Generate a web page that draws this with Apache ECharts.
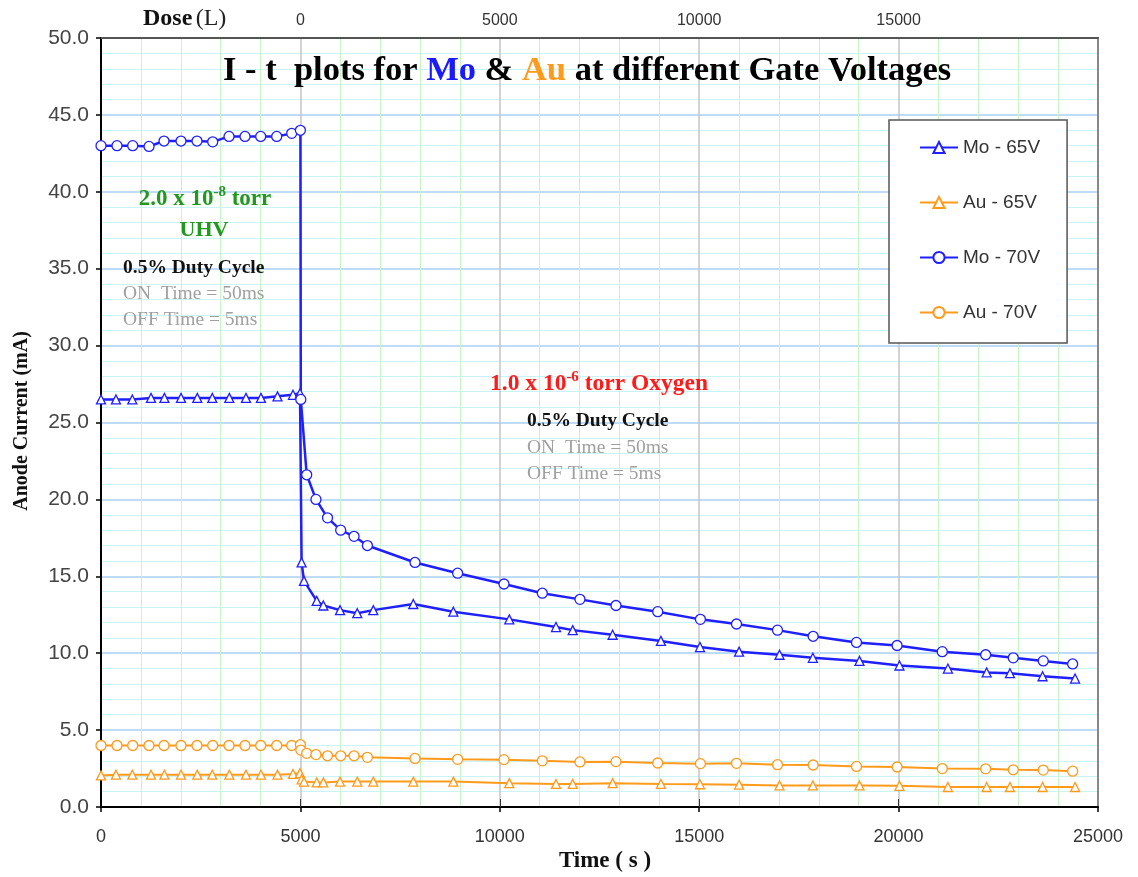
<!DOCTYPE html>
<html>
<head>
<meta charset="utf-8">
<script src="https://cdn.jsdelivr.net/npm/echarts@6/dist/echarts.min.js"></script>
<style>
html,body{margin:0;padding:0;background:#fff;}
#chart{width:1138px;height:877px;}
</style>
</head>
<body>
<div id="chart"></div>
<script>
// ---- data ----
const seriesNames = ['Mo - 65V', 'Au - 65V', 'Mo - 70V', 'Au - 70V'];

const time65 = [0,375,785,1254,1590,2006,2414,2790,3217,3635,4011,4425,4814,4990,
  5030,5090,5409,5575,5993,6426,6828,7831,8835,10238,11409,11828,12829,14040,15020,
  16000,17014,17850,19019,20022,21236,22208,22792,23610,24425];
const mo65 = [26.5,26.5,26.5,26.6,26.6,26.6,26.6,26.6,26.6,26.6,26.6,26.7,26.8,26.9,
  15.9,14.7,13.4,13.1,12.8,12.6,12.8,13.2,12.7,12.2,11.7,11.5,11.2,10.8,10.4,
  10.1,9.9,9.7,9.5,9.2,9.0,8.75,8.7,8.5,8.35];
const au65 = [2.05,2.1,2.1,2.1,2.1,2.1,2.1,2.1,2.1,2.1,2.1,2.1,2.15,2.2,
  1.8,1.65,1.6,1.6,1.65,1.65,1.65,1.65,1.65,1.55,1.5,1.5,1.55,1.5,1.48,
  1.45,1.4,1.4,1.4,1.38,1.3,1.3,1.3,1.3,1.3];

const time70 = [0,401,795,1204,1580,2006,2407,2801,3210,3611,4004,4406,4782,5000,
  5010,5158,5390,5680,6010,6345,6680,7874,8943,10105,11066,12010,12913,13960,15030,
  15935,16963,17857,18944,19962,21095,22183,22875,23627,24364];
const mo70 = [43.0,43.0,43.0,42.95,43.3,43.3,43.3,43.25,43.6,43.6,43.6,43.6,43.8,44.0,
  26.5,21.6,20.0,18.8,18.0,17.6,17.0,15.9,15.2,14.5,13.9,13.5,13.1,12.7,12.2,
  11.9,11.5,11.1,10.7,10.5,10.1,9.9,9.7,9.5,9.3];
const au70 = [4.0,4.0,4.0,4.0,4.0,4.0,4.0,4.0,4.0,4.0,4.0,4.0,4.0,4.05,
  3.7,3.49,3.41,3.33,3.33,3.33,3.23,3.16,3.1,3.08,3.0,2.93,2.95,2.86,2.82,
  2.84,2.75,2.73,2.64,2.6,2.5,2.48,2.42,2.4,2.33];

const timeTicks = {min: 0, max: 25000, interval: 5000};
const doseTicks = {min: 0, max: 20000, interval: 5000};
const currentTicks = {min: 0, max: 50, interval: 5};

// ---- chart ----
const pairs = (t, v) => t.map((x, i) => [x, v[i]]);
const BLUE = '#1f1fff', ORANGE = '#ff9a1a';
const SERIF = '"Liberation Serif", "DejaVu Serif", serif';
const SANS = '"Liberation Sans", Arial, sans-serif';

const chart = echarts.init(document.getElementById('chart'));

function mkSeries(name, t, v, color, symbol, lw) {
  return {
    name, type: 'line', xAxisIndex: 0, yAxisIndex: 0,
    data: pairs(t, v),
    symbol, symbolSize: symbol === 'triangle' ? 9 : 10,
    showAllSymbol: true,
    lineStyle: {color, width: lw},
    itemStyle: {color: '#fff', borderColor: color, borderWidth: 1.3},
    emphasis: {disabled: true},
    z: 5,
    animation: false
  };
}

function txt(x, y, style) {
  return {type: 'text', x, y, z: 100, style: Object.assign({verticalAlign: 'middle'}, style)};
}

const option = {
  animation: false,
  backgroundColor: '#fff',
  grid: [
    {left: 101, right: 40, top: 38, bottom: 70, containLabel: false},
    {left: 300.4, right: 40, top: 38, bottom: 70, containLabel: false}
  ],
  xAxis: [
    {
      type: 'value', gridIndex: 0, position: 'bottom',
      min: timeTicks.min, max: timeTicks.max, interval: timeTicks.interval,
      axisLine: {show: true, onZero: false, lineStyle: {color: '#000', width: 2}},
      axisTick: {show: true, length: 5, lineStyle: {color: '#000', width: 1.5}},
      axisLabel: {color: '#333', fontFamily: SANS, fontSize: 18, margin: 21,
        formatter: v => String(v)},
      splitLine: {show: true, lineStyle: {color: '#c4c4c4', width: 1.5}},
      minorTick: {show: false, splitNumber: 5},
      minorSplitLine: {show: true, lineStyle: {color: '#c8f5c8', width: 1}}
    },
    {
      type: 'value', gridIndex: 1, position: 'top',
      min: doseTicks.min, max: doseTicks.max, interval: doseTicks.interval,
      axisLine: {show: false},
      axisTick: {show: true, length: 8, lineStyle: {color: '#333', width: 1}},
      axisLabel: {color: '#333', fontFamily: SANS, fontSize: 16, margin: 9, showMaxLabel: false,
        formatter: v => String(v)},
      splitLine: {show: false}
    },
    {
      type: 'value', gridIndex: 0, position: 'top',
      min: timeTicks.min, max: timeTicks.max,
      axisLine: {show: true, onZero: false, lineStyle: {color: '#555', width: 2}},
      axisTick: {show: false}, axisLabel: {show: false}, splitLine: {show: false}
    }
  ],
  yAxis: [
    {
      type: 'value', gridIndex: 0, position: 'left',
      min: currentTicks.min, max: currentTicks.max, interval: currentTicks.interval,
      axisLine: {show: true, onZero: false, lineStyle: {color: '#000', width: 2}},
      axisTick: {show: true, length: 5, lineStyle: {color: '#000', width: 1.5}},
      axisLabel: {color: '#444', fontFamily: SANS, fontSize: 21, margin: 12,
        formatter: v => v.toFixed(1)},
      splitLine: {show: true, lineStyle: {color: '#a8d0f5', width: 1.5}},
      minorTick: {show: false, splitNumber: 5},
      minorSplitLine: {show: true, lineStyle: {color: '#c8f4f8', width: 1}}
    },
    {
      type: 'value', gridIndex: 1, show: false, min: 0, max: 50
    },
    {
      type: 'value', gridIndex: 0, position: 'right',
      min: currentTicks.min, max: currentTicks.max,
      axisLine: {show: true, onZero: false, lineStyle: {color: '#888', width: 2}},
      axisTick: {show: false}, axisLabel: {show: false}, splitLine: {show: false}
    }
  ],
  legend: {
    orient: 'vertical', left: 889, top: 120,
    data: seriesNames,
    backgroundColor: '#fff', borderColor: '#555', borderWidth: 1.5,
    padding: [18, 27, 21, 30],
    itemWidth: 38, itemHeight: 14, itemGap: 36,
    selectedMode: false,
    textStyle: {color: '#333', fontFamily: SANS, fontSize: 19, lineHeight: 14}
  },
  series: [
    mkSeries(seriesNames[0], time65, mo65, BLUE, 'triangle', 2.5),
    mkSeries(seriesNames[1], time65, au65, ORANGE, 'triangle', 2),
    mkSeries(seriesNames[2], time70, mo70, BLUE, 'circle', 2.5),
    mkSeries(seriesNames[3], time70, au70, ORANGE, 'circle', 2)
  ],
  graphic: [
    // title
    txt(223, 71, {
      text: '{a|I - t  plots for }{mo|Mo}{a| & }{au|Au}{a| at different Gate Voltages}',
      align: 'left',
      rich: {
        a: {fontFamily: SERIF, fontWeight: 'bold', fontSize: 34.5, fill: '#000'},
        mo: {fontFamily: SERIF, fontWeight: 'bold', fontSize: 34.5, fill: '#1a1aff'},
        au: {fontFamily: SERIF, fontWeight: 'bold', fontSize: 34.5, fill: '#ff9a1a'}
      }
    }),
    // Dose (L)
    txt(143, 19, {
      text: '{b|Dose} {n|(L)}', align: 'left',
      rich: {
        b: {fontFamily: SERIF, fontWeight: 'bold', fontSize: 24, fill: '#111'},
        n: {fontFamily: SERIF, fontSize: 24, fill: '#222'}
      }
    }),
    // axis names
    {type: 'text', x: 22, y: 421, z: 100, rotation: Math.PI / 2, style: {
      text: 'Anode Current (mA)', fontFamily: SERIF, fontWeight: 'bold', fontSize: 20,
      fill: '#111', align: 'center', verticalAlign: 'middle'
    }},
    txt(605, 861, {
      text: 'Time ( s )', fontFamily: SERIF, fontWeight: 'bold', fontSize: 23,
      fill: '#111', align: 'center'
    }),
    // UHV annotations
    txt(205, 199, {
      text: '{t|2.0 x 10}{s|-8}{t| torr}', align: 'center',
      rich: {
        t: {fontFamily: SERIF, fontWeight: 'bold', fontSize: 23, fill: '#1f9a1f', lineHeight: 28},
        s: {fontFamily: SERIF, fontWeight: 'bold', fontSize: 15, fill: '#1f9a1f', lineHeight: 14, verticalAlign: 'top'}
      }
    }),
    txt(204, 230, {
      text: 'UHV', fontFamily: SERIF, fontWeight: 'bold', fontSize: 22, fill: '#1f9a1f',
      align: 'center'
    }),
    txt(123, 268, {
      text: '0.5% Duty Cycle', fontFamily: SERIF, fontWeight: 'bold', fontSize: 19.5, fill: '#111',
      align: 'left'
    }),
    txt(123, 294, {
      text: 'ON  Time = 50ms', fontFamily: SERIF, fontSize: 19.5, fill: '#a0a0a0', align: 'left'
    }),
    txt(123, 320, {
      text: 'OFF Time = 5ms', fontFamily: SERIF, fontSize: 19.5, fill: '#a0a0a0', align: 'left'
    }),
    // Oxygen annotations
    txt(490, 384, {
      text: '{t|1.0 x 10}{s|-6}{t| torr Oxygen}', align: 'left',
      rich: {
        t: {fontFamily: SERIF, fontWeight: 'bold', fontSize: 23.5, fill: '#ff1a1a', lineHeight: 28},
        s: {fontFamily: SERIF, fontWeight: 'bold', fontSize: 15, fill: '#ff1a1a', lineHeight: 14, verticalAlign: 'top'}
      }
    }),
    txt(527, 421, {
      text: '0.5% Duty Cycle', fontFamily: SERIF, fontWeight: 'bold', fontSize: 19.5, fill: '#111',
      align: 'left'
    }),
    txt(527, 448, {
      text: 'ON  Time = 50ms', fontFamily: SERIF, fontSize: 19.5, fill: '#a0a0a0', align: 'left'
    }),
    txt(527, 474, {
      text: 'OFF Time = 5ms', fontFamily: SERIF, fontSize: 19.5, fill: '#a0a0a0', align: 'left'
    })
  ]
};
chart.setOption(option);
</script>
</body>
</html>
